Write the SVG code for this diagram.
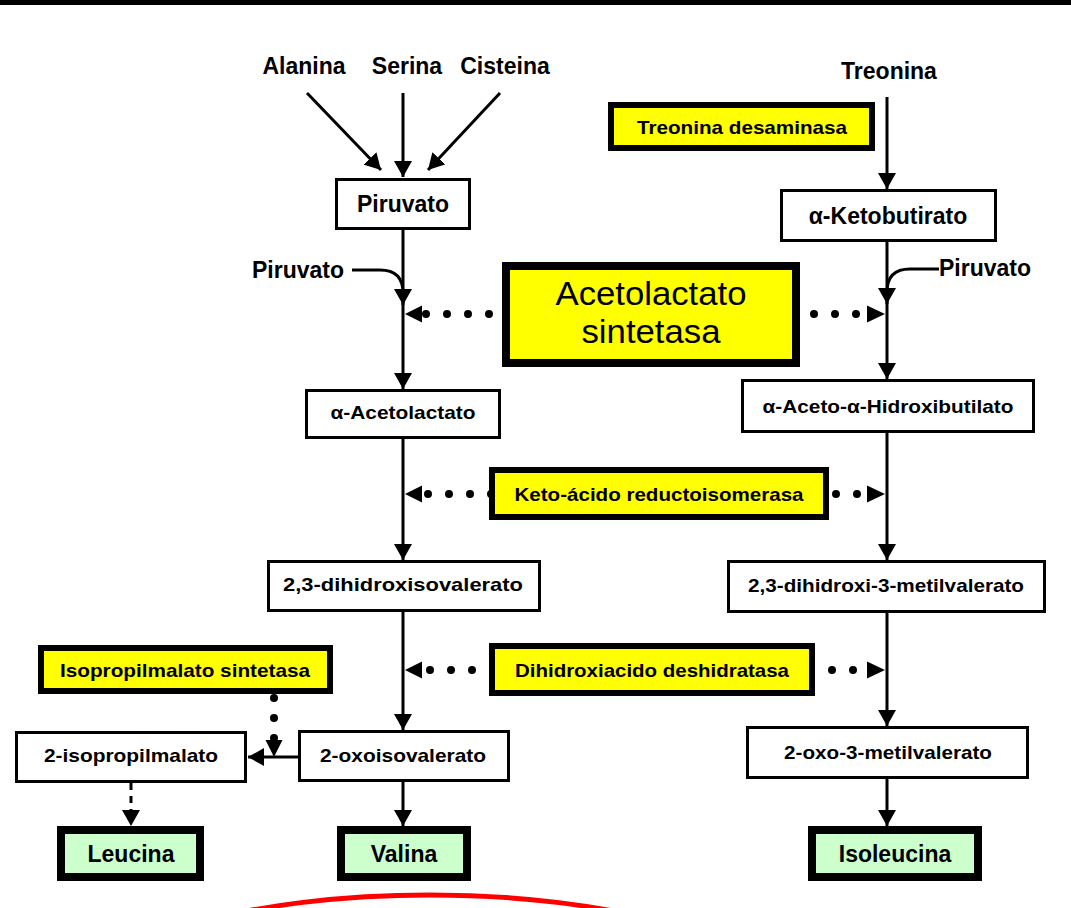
<svg xmlns="http://www.w3.org/2000/svg" width="1071" height="908" viewBox="0 0 1071 908">
<defs>
<style>
text{font-family:"Liberation Sans",Arial,sans-serif;fill:#000;text-anchor:middle}
.b{font-weight:bold;font-size:23px}
.s{font-weight:bold;font-size:19px}
.big{font-size:33px}
.node rect{fill:#fff;stroke:#000;stroke-width:3}
.enz rect{fill:#ffff00;stroke:#000;stroke-width:6}
.prod rect{fill:#ccffcc;stroke:#000;stroke-width:8}
.ln{stroke:#000;stroke-width:3;fill:none}
.arr{marker-end:url(#ah)}
.dot{stroke:#000;stroke-width:8;stroke-linecap:round;stroke-dasharray:0 21;fill:none}
.dash{stroke:#000;stroke-width:3;stroke-dasharray:7 6;fill:none}
</style>
<marker id="ah" markerUnits="userSpaceOnUse" viewBox="0 0 16 18" refX="16" refY="9" markerWidth="16" markerHeight="18" orient="auto">
<path d="M0,0 L16,9 L0,18 z" fill="#000"/>
</marker>
</defs>
<rect x="0" y="0" width="1071" height="908" fill="#fff"/>
<rect x="0" y="0" width="1071" height="5" fill="#000"/>

<g id="labels">
<text class="b" x="304" y="74">Alanina</text>
<text class="b" x="407" y="74">Serina</text>
<text class="b" x="505" y="74">Cisteina</text>
<text class="b" x="889" y="79">Treonina</text>
<text class="b" x="298" y="278">Piruvato</text>
<text class="b" x="985" y="276">Piruvato</text>
</g>

<g id="connectors">
<line class="ln arr" x1="307" y1="93" x2="381" y2="170"/>
<line class="ln arr" x1="403" y1="93" x2="403" y2="177"/>
<line class="ln arr" x1="500" y1="93" x2="428" y2="170"/>
<line class="ln arr" x1="403" y1="230" x2="403" y2="389"/>
<path class="ln arr" d="M352 270 H380 Q403 270 403 293 L403 305"/>
<line class="ln arr" x1="403" y1="439" x2="403" y2="560"/>
<line class="ln arr" x1="403" y1="612" x2="403" y2="730"/>
<line class="ln arr" x1="403" y1="782" x2="403" y2="826"/>
<line class="ln arr" x1="298" y1="757" x2="248" y2="757"/>
<line class="dash" x1="131" y1="783" x2="131" y2="812"/>
<polygon points="122,810 140,810 131,826" fill="#000"/>
<line class="ln arr" x1="887" y1="97" x2="887" y2="189"/>
<line class="ln arr" x1="887" y1="242" x2="887" y2="379"/>
<path class="ln arr" d="M939 269 H910 Q887 269 887 292 L887 304"/>
<line class="ln arr" x1="887" y1="433" x2="887" y2="560"/>
<line class="ln arr" x1="887" y1="613" x2="887" y2="726"/>
<line class="ln arr" x1="887" y1="779" x2="887" y2="826"/>
<!-- dotted enzyme arrows -->
<line class="dot" x1="489" y1="314" x2="425.5" y2="314"/>
<polygon points="405,314 422,305.5 422,322.5" fill="#000"/>
<line class="dot" x1="814" y1="314" x2="856.5" y2="314"/>
<polygon points="885,314 867,305.5 867,322.5" fill="#000"/>
<line class="dot" x1="491" y1="494" x2="427.5" y2="494"/>
<polygon points="405,494 422,485.5 422,502.5" fill="#000"/>
<line class="dot" x1="836" y1="494" x2="857.5" y2="494"/>
<polygon points="885,494 867,485.5 867,502.5" fill="#000"/>
<line class="dot" x1="493" y1="670" x2="429.5" y2="670"/>
<polygon points="405,670 422,661.5 422,678.5" fill="#000"/>
<line class="dot" x1="832" y1="670" x2="853.5" y2="670"/>
<polygon points="885,670 867,661.5 867,678.5" fill="#000"/>
<line class="dot" x1="274" y1="698" x2="274" y2="738.5" style="stroke-dasharray:0 20"/>
<polygon points="265.5,740 282.5,740 274,757" fill="#000"/>
</g>

<g id="n-piruvato" class="node"><rect x="336.5" y="179.5" width="133" height="49"/><text class="b" x="403" y="212">Piruvato</text></g>
<g id="n-acetolactato" class="node"><rect x="306.5" y="390.5" width="193" height="47"/><text class="s" x="403" y="419" textLength="145" lengthAdjust="spacingAndGlyphs">α-Acetolactato</text></g>
<g id="n-dihidroxisovalerato" class="node"><rect x="268.5" y="561.5" width="271" height="49"/><text class="s" x="403" y="591" textLength="240" lengthAdjust="spacingAndGlyphs">2,3-dihidroxisovalerato</text></g>
<g id="n-isopropilmalato" class="node"><rect x="16.5" y="732.5" width="229" height="49"/><text class="s" x="131" y="762" textLength="174" lengthAdjust="spacingAndGlyphs">2-isopropilmalato</text></g>
<g id="n-oxoisovalerato" class="node"><rect x="299.5" y="731.5" width="209" height="49"/><text class="s" x="403" y="762" textLength="166" lengthAdjust="spacingAndGlyphs">2-oxoisovalerato</text></g>
<g id="n-ketobutirato" class="node"><rect x="781.5" y="190.5" width="214" height="50"/><text class="b" x="888" y="224">α-Ketobutirato</text></g>
<g id="n-acetohidroxibutilato" class="node"><rect x="742.5" y="380.5" width="291" height="51"/><text class="s" x="888" y="413" textLength="251" lengthAdjust="spacingAndGlyphs">α-Aceto-α-Hidroxibutilato</text></g>
<g id="n-dihidroximetilvalerato" class="node"><rect x="728.5" y="561.5" width="316" height="50"/><text class="s" x="886" y="592" textLength="276" lengthAdjust="spacingAndGlyphs">2,3-dihidroxi-3-metilvalerato</text></g>
<g id="n-oxometilvalerato" class="node"><rect x="747.5" y="727.5" width="280" height="50"/><text class="s" x="888" y="759" textLength="208" lengthAdjust="spacingAndGlyphs">2-oxo-3-metilvalerato</text></g>

<g id="e-treonina-desaminasa" class="enz"><rect x="611" y="105" width="261" height="43"/><text class="s" x="742" y="134" textLength="210" lengthAdjust="spacingAndGlyphs">Treonina desaminasa</text></g>
<g id="e-acetolactato-sintetasa" class="enz"><rect x="506" y="266" width="290" height="97" style="stroke-width:8"/><text class="big" x="651" y="305" textLength="191" lengthAdjust="spacingAndGlyphs">Acetolactato</text><text class="big" x="651" y="343" textLength="139" lengthAdjust="spacingAndGlyphs">sintetasa</text></g>
<g id="e-keto-acido" class="enz"><rect x="492" y="470" width="334" height="47"/><text class="s" x="659" y="501" textLength="289" lengthAdjust="spacingAndGlyphs">Keto-ácido reductoisomerasa</text></g>
<g id="e-dihidroxiacido" class="enz"><rect x="492" y="646" width="320" height="47"/><text class="s" x="652" y="677" textLength="274" lengthAdjust="spacingAndGlyphs">Dihidroxiacido deshidratasa</text></g>
<g id="e-isopropilmalato-sintetasa" class="enz"><rect x="41" y="648" width="289" height="43"/><text class="s" x="185" y="677" textLength="250" lengthAdjust="spacingAndGlyphs">Isopropilmalato sintetasa</text></g>

<g id="p-leucina" class="prod"><rect x="61" y="830" width="139" height="47"/><text class="b" x="131" y="862">Leucina</text></g>
<g id="p-valina" class="prod"><rect x="341" y="830" width="126" height="47"/><text class="b" x="404" y="862">Valina</text></g>
<g id="p-isoleucina" class="prod"><rect x="812" y="830" width="166" height="47"/><text class="b" x="895" y="862">Isoleucina</text></g>

<ellipse cx="430" cy="1000" rx="345" ry="105" fill="none" stroke="#ff0000" stroke-width="5"/>
</svg>
